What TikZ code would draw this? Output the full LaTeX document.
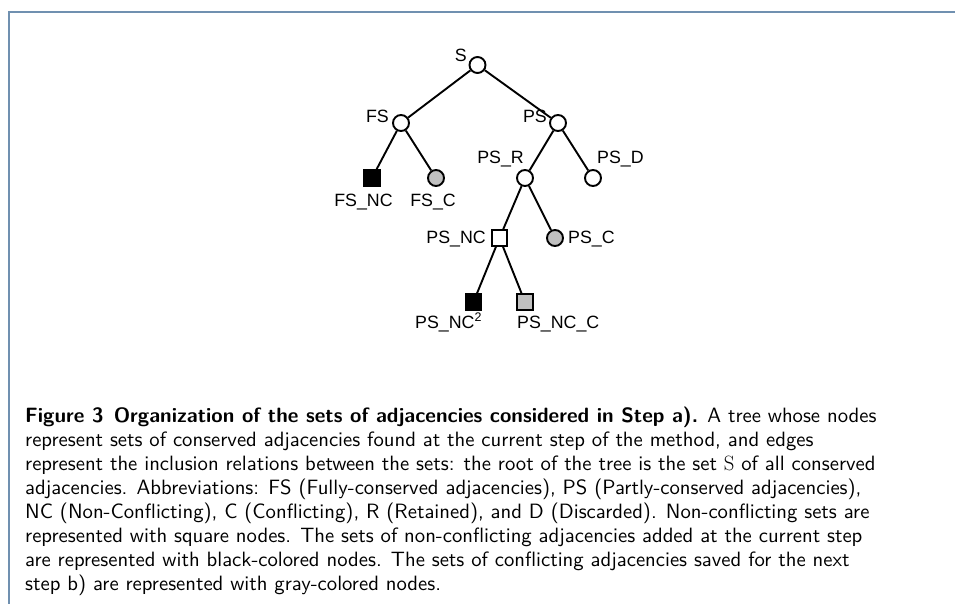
\documentclass[tikz,border=0pt]{standalone}
\usepackage{fontspec}
\newfontfamily\lblfont{Liberation Sans}
\newfontfamily\capfont{lmsans10-regular.otf}[BoldFont=lmsans10-bold.otf]
\definecolor{framecol}{HTML}{7090B0}
\definecolor{setgray}{HTML}{C0C0C0}

\begin{document}
\begin{tikzpicture}[x=1pt,y=-1pt,
            set/.style={circle,draw,line width=1.9pt,minimum size=16pt,inner sep=0pt,fill=white},
            sqset/.style={rectangle,draw,line width=1.9pt,minimum size=15.5pt,inner sep=0pt,fill=white},
            lbl/.style={font=\lblfont\fontsize{17.8}{20}\selectfont,inner sep=0pt},
            link/.style={line width=1.9pt}]
        \useasboundingbox (0,0) rectangle (955,604);
        \draw[framecol,line width=2pt] (9,604) -- (9,12) -- (955,12);

            % tree of sets
            \node[set] (s) at (477.5,65) {};
            \node[set] (fs) at (401,123) {};
            \node[set] (ps) at (558,123) {};
            \node[sqset,fill=black] (fsnc) at (372,178) {};
            \node[set,fill=setgray] (fsc) at (436,178) {};
            \node[set] (psr) at (525,178) {};
            \node[set] (psd) at (593,178) {};
            \node[sqset] (psnc) at (499.5,238) {};
            \node[set,fill=setgray] (psc) at (555,238) {};
            \node[sqset,fill=black] (psncb) at (473.5,302) {};
            \node[sqset,fill=setgray] (psncc) at (525,302) {};

            \draw[link] (s) -- (fs);
            \draw[link] (s) -- (ps);
            \draw[link] (fs) -- (fsnc);
            \draw[link] (fs) -- (fsc);
            \draw[link] (ps) -- (psr);
            \draw[link] (ps) -- (psd);
            \draw[link] (psr) -- (psnc);
            \draw[link] (psr) -- (psc);
            \draw[link] (psnc) -- (psncb);
            \draw[link] (psnc) -- (psncc);

            % labels
            \node[lbl,anchor=base east] (ls) at (467,62) {S};
            \node[lbl,anchor=base east] (lfs) at (389,123) {FS};
            \node[lbl,anchor=base east] (lps) at (547,123) {PS};
            \node[lbl,anchor=base east] (lpsr) at (524,164) {PS\_R};
            \node[lbl,anchor=base west] (lpsd) at (597,164) {PS\_D};
            \node[lbl,anchor=base] (lfsnc) at (363.5,206) {FS\_NC};
            \node[lbl,anchor=base] (lfsc) at (433,206) {FS\_C};
            \node[lbl,anchor=base east] (lpsnc) at (486,243) {PS\_NC};
            \node[lbl,anchor=base west] (lpsc) at (568,243) {PS\_C};
            \node[lbl,anchor=base west] (lpsncb) at (415,328) {PS\_NC\textsuperscript{2}};
            \node[lbl,anchor=base west] (lpsncc) at (517,328) {PS\_NC\_C};

            % caption
            \node[anchor=north west,inner sep=0pt,align=left,
                font=\capfont\fontsize{20.7}{24}\selectfont] (cap) at (25,407) {%
                \textbf{Figure 3\enskip Organization of the sets of adjacencies considered in Step a).} A tree whose nodes\\
                represent sets of conserved adjacencies found at the current step of the method, and edges\\
                represent the inclusion relations between the sets: the root of the tree is the set $\mathrm{S}$ of all conserved\\
                adjacencies. Abbreviations: FS (Fully-conserved adjacencies), PS (Partly-conserved adjacencies),\\
                NC (Non-Conflicting), C (Conflicting), R (Retained), and D (Discarded). Non-conflicting sets are\\
                represented with square nodes. The sets of non-conflicting adjacencies added at the current step\\
                are represented with black-colored nodes. The sets of conflicting adjacencies saved for the next\\
                step b) are represented with gray-colored nodes.};
        \end{tikzpicture}
\end{document}
